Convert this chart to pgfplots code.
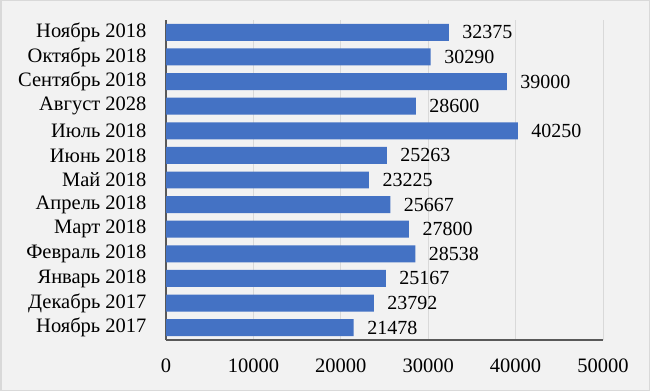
\documentclass[border=0pt]{standalone}
\usepackage{pgfplots}
\pgfplotsset{compat=1.18}
\usepackage{fontspec}
\setmainfont{Liberation Serif}
\definecolor{barblue}{HTML}{4472C4}
\definecolor{bg}{HTML}{F2F2F2}
\definecolor{gridc}{HTML}{D9D9D9}
\definecolor{axc}{HTML}{595959}
\begin{document}
\begin{tikzpicture}[x=1pt,y=1pt]
\fill[bg] (0,0) rectangle (650,391);
\draw[gridc,line width=1.5pt] (0.75,0.75) rectangle (649.25,390.25);
\begin{axis}[
  at={(166pt,51pt)}, anchor=south west,
  scale only axis, width=437pt, height=320pt,
  xbar, bar width=0.69,
  xmin=0, xmax=50000,
  ymin=-0.5, ymax=12.5,
  xtick={0,10000,...,50000},
  scaled x ticks=false,
  /pgf/number format/1000 sep={},
  /pgf/number format/assume math mode=true,
  ytick={0,...,12},
  yticklabels={Ноябрь 2017,Декабрь 2017,Январь 2018,Февраль 2018,Март 2018,Апрель 2018,Май 2018,Июнь 2018,Июль 2018,Август 2028,Сентябрь 2018,Октябрь 2018,Ноябрь 2018},
  tick label style={font=\fontsize{20.5}{22}\selectfont, black},
  xticklabel style={yshift=-15pt},
  yticklabel style={xshift=-16pt},
  major tick length=0pt,
  xmajorgrids, grid style={gridc, line width=0.8pt},
  axis x line*=bottom, axis y line*=left,
  axis line style={axc, line width=1.2pt, -},
  nodes near coords,
  nodes near coords style={font=\fontsize{20}{22}\selectfont, black, xshift=10pt},
]
\addplot[fill=barblue, draw=none] coordinates {
(21478,0) (23792,1) (25167,2) (28538,3) (27800,4) (25667,5) (23225,6) (25263,7) (40250,8) (28600,9) (39000,10) (30290,11) (32375,12)
};
\end{axis}
\end{tikzpicture}
\end{document}
